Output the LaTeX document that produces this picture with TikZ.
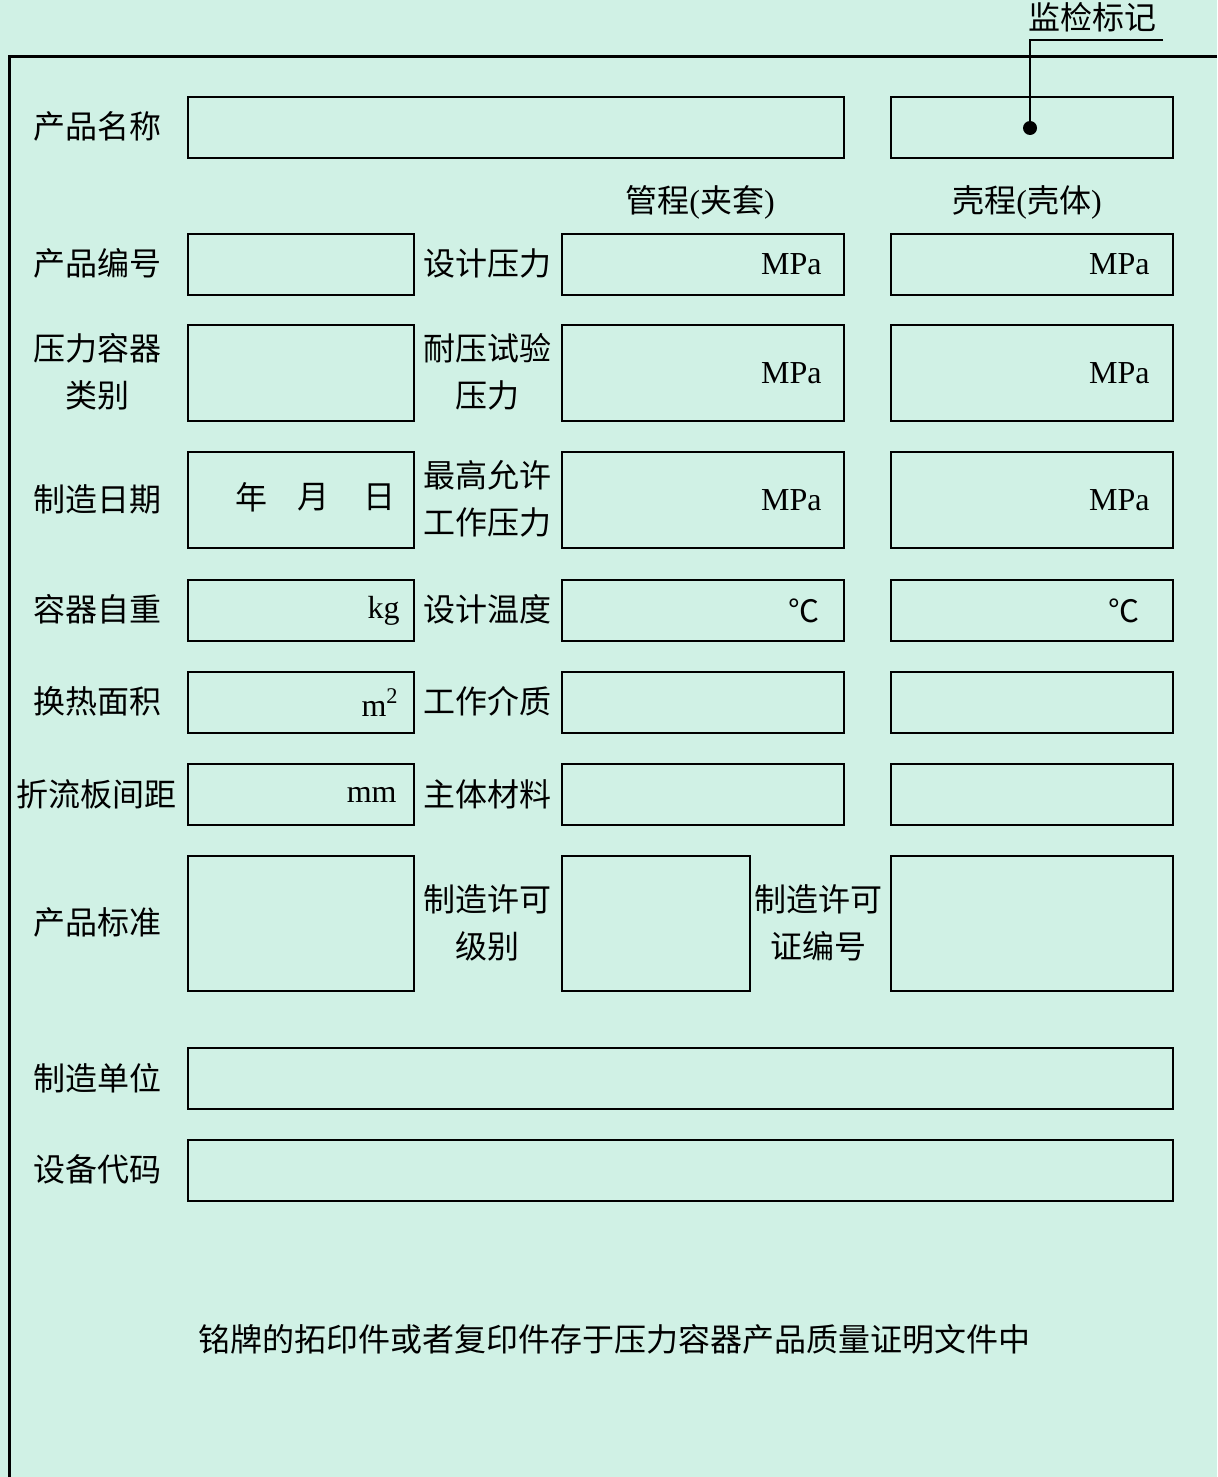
\documentclass[tikz,border=0pt]{standalone}
\usepackage{fontspec}
\setmainfont{Liberation Serif}
\newfontfamily\cjk{Noto Sans CJK SC}
\usetikzlibrary{positioning}
\definecolor{mint}{RGB}{208,241,229}
\tikzset{
  basic/.style  = {draw, line width=1pt, inner sep=0pt, anchor=north west},
  field/.style  = {basic, minimum height=30.5pt},
  field tall/.style = {basic, minimum height=48pt},
  field big/.style  = {basic, minimum height=67.5pt},
  narrow/.style = {minimum width=113pt},
  wide/.style   = {minimum width=141pt},
  fieldname/.style = {font=\cjk\fontsize{16}{23.5}\selectfont, align=center, inner sep=0pt},
  unit/.style   = {font=\fontsize{16}{19}\selectfont, inner sep=0pt}
}
\begin{document}
\begin{tikzpicture}[x=0.5pt, y=-0.5pt]

% background and frame
\fill[mint] (0,0) rectangle (1217,1477);
\useasboundingbox (0,0) rectangle (1217,1477);
\draw[line width=1.5pt] (1217,57) -- (9,57) -- (9,1477);

% inspection mark
\node[fieldname] (tMark) at (1092,17) {监检标记};
\coordinate (mkEnd) at (1163,40);
\coordinate (mkBend) at (1030,40);
\node[circle, fill, inner sep=0pt, minimum size=7pt] (mkDot) at (1030,128) {};
\draw[line width=1pt] (mkEnd) -- (mkBend) -- (mkDot.center);

% first row and column heads
\node[field, minimum width=328pt] (bName) at (187,96) {};
\node[field, wide] (bMark) at (890,96) {};
\node[fieldname] (hTube) at (700,202) {管程{\rmfamily(}夹套{\rmfamily)}};
\node[fieldname] (hShell) at (1027,202) {壳程{\rmfamily(}壳体{\rmfamily)}};

% left column, relatively placed units
\begin{scope}[every node/.style={fieldname}]
\node (tName) at (97,126.5) {产品名称};
\node (tNumber) at (97,263.5) {产品编号};
\node (tClass) at (97,372) {压力容器\\类别};
\node (tDate) at (97,499) {制造日期};
\node (tWeight) at (97,609.5) {容器自重};
\node (tArea) at (97,701.5) {换热面积};
\node (tBaffle) at (97,794) {折流板间距};
\node (tStd) at (97,922.5) {产品标准};
\node (tMaker) at (97,1078) {制造单位};
\node (tCode) at (97,1169) {设备代码};
\end{scope}

\node[field, narrow] (bNumber) at (187,233) {};
\node[field tall, narrow] (bClass) at (187,324) {};
\node[field tall, narrow] (bDate) at (187,451) {};
\node[field, narrow] (bWeight) at (187,579) {};
\node[field, narrow] (bArea) at (187,671) {};
\node[field, narrow] (bBaffle) at (187,763) {};
\node[field big, narrow] (bStd) at (187,855) {};
\node[field, minimum width=492.5pt] (bMaker) at (187,1047) {};
\node[field, minimum width=492.5pt] (bCode) at (187,1139) {};

\node[fieldname] (dYear) at (251,497) {年};
\node[fieldname] (dMonth) at (313,497) {月};
\node[fieldname] (dDay) at (379,497) {日};
\node[unit, left=7.5pt of bWeight.east] (uWeight) {kg};
\node[unit, left=8pt of bArea.east] (uArea) {m\textsuperscript{2}};
\node[unit, left=9pt of bBaffle.east] (uBaffle) {mm};

% middle column
\begin{scope}[every node/.style={fieldname}]
\node (tPress) at (487,263.5) {设计压力};
\node (tTest) at (487,372) {耐压试验\\压力};
\node (tMax) at (487,499) {最高允许\\工作压力};
\node (tTemp) at (487,609.5) {设计温度};
\node (tMedium) at (487,701.5) {工作介质};
\node (tMat) at (487,794) {主体材料};
\node (tLevel) at (487,922.5) {制造许可\\级别};
\node (tLicence) at (818,922.5) {制造许可\\证编号};
\end{scope}

\node[field, wide] (bPressT) at (561,233) {};
\node[field tall, wide] (bTestT) at (561,324) {};
\node[field tall, wide] (bMaxT) at (561,451) {};
\node[field, wide] (bTempT) at (561,579) {};
\node[field, wide] (bMediumT) at (561,671) {};
\node[field, wide] (bMatT) at (561,763) {};
\node[field big, minimum width=94pt] (bLevel) at (561,855) {};

\node[unit, left=11.5pt of bPressT.east] (uPressT) {MPa};
\node[unit, left=11.5pt of bTestT.east] (uTestT) {MPa};
\node[unit, left=11.5pt of bMaxT.east] (uMaxT) {MPa};
\node[unit, font=\cjk\fontsize{15.5}{19}\selectfont, left=12.5pt of bTempT.east] (uTempT) {℃};

% right column
\node[field, wide] (bPressS) at (890,233) {};
\node[field tall, wide] (bTestS) at (890,324) {};
\node[field tall, wide] (bMaxS) at (890,451) {};
\node[field, wide] (bTempS) at (890,579) {};
\node[field, wide] (bMediumS) at (890,671) {};
\node[field, wide] (bMatS) at (890,763) {};
\node[field big, wide] (bLicence) at (890,855) {};

\node[unit, left=12pt of bPressS.east] (uPressS) {MPa};
\node[unit, left=12pt of bTestS.east] (uTestS) {MPa};
\node[unit, left=12pt of bMaxS.east] (uMaxS) {MPa};
\node[unit, font=\cjk\fontsize{15.5}{19}\selectfont, left=17pt of bTempS.east] (uTempS) {℃};

% footnote
\node[fieldname] (tNote) at (614,1339) {铭牌的拓印件或者复印件存于压力容器产品质量证明文件中};

\end{tikzpicture}
\end{document}
